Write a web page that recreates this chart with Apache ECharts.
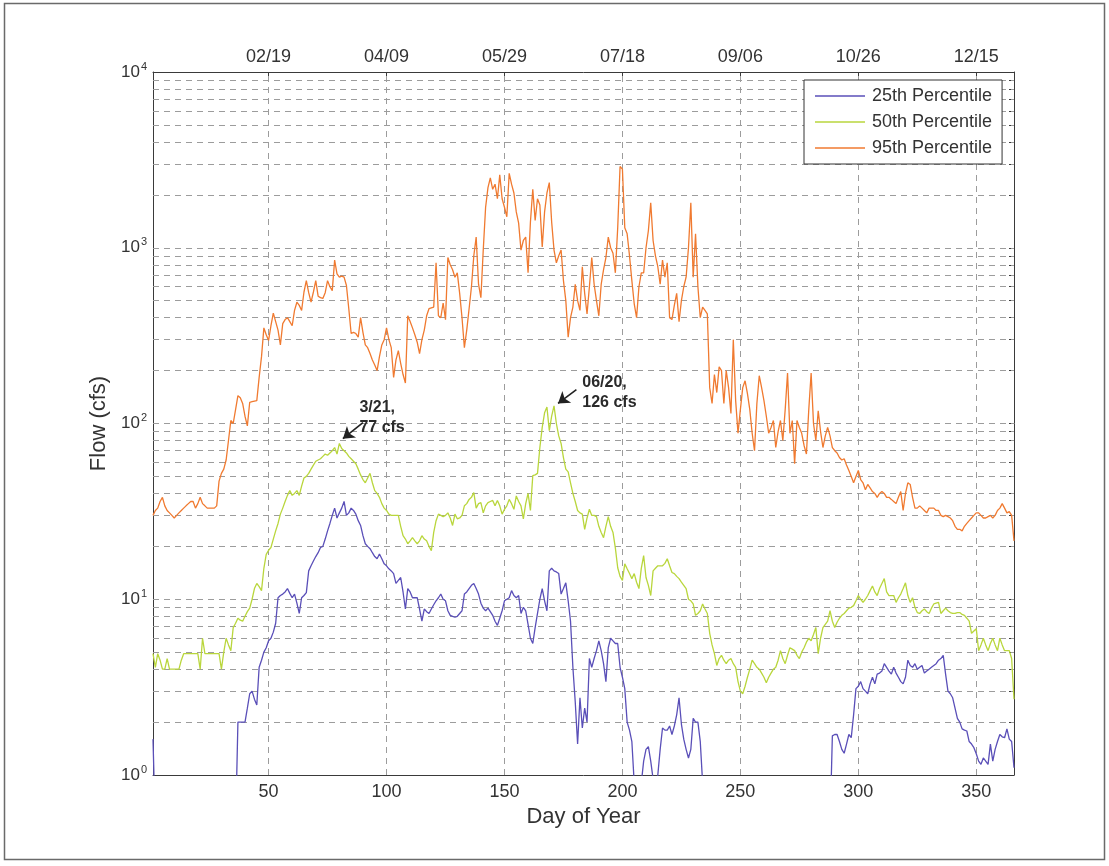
<!DOCTYPE html>
<html>
<head>
<meta charset="utf-8">
<script src="https://cdn.jsdelivr.net/npm/echarts@6/dist/echarts.min.js"></script>
<style>
  html, body { margin: 0; padding: 0; background: #fff; }
  #chart { width: 1109px; height: 866px; }
</style>
</head>
<body>
<div id="chart"></div>
<script>
//----------------------Data----------------------
// day-of-year ticks and the matching calendar labels on the top axis
let tick_days = [50, 100, 150, 200, 250, 300, 350];
let date_labels = ["02/19", "04/09", "05/29", "07/18", "09/06", "10/26", "12/15"];
// log axis: decades and the 2..9 sub-ticks
let decades = [1, 10, 100, 1000, 10000];
let log_ticks = [1, 2, 3, 4, 5, 6, 7, 8, 9, 10, 20, 30, 40, 50, 60, 70, 80, 90,
    100, 200, 300, 400, 500, 600, 700, 800, 900, 1000, 2000, 3000, 4000, 5000,
    6000, 7000, 8000, 9000, 10000];

// flow (cfs) for day 1..366, one row per 10 days (values < 1 fall under the axis)
let p25 = [
    1.6, 0.5, 0.5, 0.5, 0.5, 0.5, 0.5, 0.5, 0.5, 0.5,
    0.5, 0.5, 0.5, 0.5, 0.5, 0.5, 0.5, 0.5, 0.5, 0.5,
    0.5, 0.5, 0.5, 0.5, 0.5, 0.5, 0.5, 0.5, 0.5, 0.5,
    0.5, 0.5, 0.5, 0.5, 0.5, 0.5, 2.0, 2.0, 2.0, 2.0,
    2.4, 2.9, 3.0, 2.7, 2.5, 4.1, 4.5, 5.0, 5.3, 5.8,
    6.0, 6.5, 7.3, 10.2, 10.5, 10.7, 11, 11.5, 10.8, 10.2,
    10.7, 9.5, 8.3, 10.2, 10.5, 10.9, 14.5, 15.5, 16.5, 17.5,
    18.4, 19.7, 20, 22, 24.5, 27, 30, 33, 29, 31,
    33, 36, 30, 31, 33, 32, 30.5, 28, 26.3, 23,
    20.7, 20, 19.4, 18.4, 17.5, 17, 18.1, 17, 15.9, 15.5,
    14.9, 14.5, 14, 12.3, 12.8, 13.3, 11, 8.8, 11.5, 11,
    10.2, 10.2, 10.2, 8.8, 7.5, 8.8, 8.5, 8.3, 8.8, 9.3,
    9.8, 10.2, 10.7, 10, 9.8, 8.6, 8.1, 8.0, 7.9, 8.0,
    8.3, 8.6, 10.7, 11, 11.5, 12, 12.3, 11.5, 10.7, 9.5,
    8.9, 8.6, 8.9, 8.5, 8.1, 7.5, 7.1, 7.8, 8.6, 9.8,
    10, 10.2, 11.2, 10.5, 10.2, 10.5, 8.3, 9, 8.6, 7.2,
    6.0, 5.6, 6.9, 8.3, 10, 11.5, 9.8, 8.6, 14.5, 15,
    14.5, 14.3, 14, 10.7, 11.5, 12.4, 9.8, 7.5, 4.1, 2.6,
    1.5, 2.75, 1.85, 2.4, 2.0, 4.6, 4.1, 4.6, 5.1, 5.8,
    5.1, 4.3, 3.4, 5.3, 6.0, 5.8, 5.6, 5.6, 4.1, 3.6,
    3.1, 2.0, 1.8, 1.55, 0.9, 0.6, 0.6, 0.9, 1.2, 1.4,
    1.45, 1.2, 0.95, 0.85, 1.0, 1.4, 1.85, 1.8, 1.8, 1.9,
    1.7, 1.9, 2.2, 2.75, 1.95, 1.6, 1.4, 1.25, 1.4, 2.1,
    2.0, 2.0, 1.55, 0.9, 0.5, 0.5, 0.5, 0.5, 0.5, 0.5,
    0.5, 0.5, 0.5, 0.5, 0.5, 0.5, 0.5, 0.5, 0.5, 0.5,
    0.5, 0.5, 0.5, 0.5, 0.5, 0.5, 0.5, 0.5, 0.5, 0.5,
    0.5, 0.5, 0.5, 0.5, 0.5, 0.5, 0.5, 0.5, 0.5, 0.5,
    0.5, 0.5, 0.5, 0.5, 0.5, 0.5, 0.5, 0.5, 0.5, 0.5,
    0.5, 0.5, 0.5, 0.5, 0.5, 0.5, 0.5, 0.5, 1.67, 1.7,
    1.7, 1.55, 1.4, 1.33, 1.5, 1.7, 1.63, 2.2, 3.1, 3.2,
    3.4, 3.1, 3.0, 2.9, 3.3, 3.6, 3.3, 3.75, 3.8, 3.9,
    4.3, 4.1, 3.9, 3.75, 4.1, 3.8, 3.6, 3.4, 3.3, 3.6,
    4.5, 4.2, 4.1, 4.3, 4.0, 4.1, 4.2, 3.8, 3.9, 4.0,
    4.1, 4.2, 4.3, 4.5, 4.6, 4.8, 3.75, 3.0, 2.9, 2.75,
    2.4, 2.1, 2.0, 1.83, 1.8, 1.78, 1.55, 1.5, 1.43, 1.32,
    1.2, 1.15, 1.25, 1.2, 1.15, 1.5, 1.2, 1.4, 1.55, 1.7,
    1.65, 1.63, 1.83, 1.6, 1.55, 1.1
];
let p50 = [
    4.9, 4.1, 4.9, 4.5, 4.0, 4.0, 4.6, 4.0, 4.0, 4.0,
    4.0, 4.0, 4.5, 4.9, 4.9, 4.9, 4.9, 4.9, 4.9, 4.9,
    4.0, 6.0, 4.9, 4.9, 4.9, 4.9, 4.9, 4.9, 4.9, 4.0,
    5.0, 6.0, 5.5, 5.1, 6.9, 7.3, 7.8, 7.6, 7.5, 8.0,
    8.5, 8.9, 10, 11.5, 12.3, 11.8, 11.2, 15, 18, 19,
    19.7, 22, 24.5, 27, 30.5, 33, 36, 39, 41.5, 39,
    40, 41.5, 39, 44, 49, 50, 52, 55, 58, 61,
    62, 63, 65, 67, 66, 68, 70, 73, 67, 77,
    72, 70, 68, 65, 63, 61, 59, 55, 51, 48,
    46, 49, 52, 46, 41.5, 40, 38, 35, 33, 32,
    30.5, 30, 30, 30, 30, 26, 23, 22, 20.7, 21.5,
    22.4, 21.5, 20.7, 21.5, 23, 22, 21.5, 20, 18.9, 24,
    28, 30.5, 30, 29.5, 30, 31, 29, 26.3, 30.5, 28.7,
    29, 30, 34, 35, 37, 38, 40.5, 33, 35, 35.5,
    31, 34, 35.5, 36, 36.5, 34, 36.5, 34, 30.5, 32.5,
    34, 37, 35, 32.5, 38.7, 36, 34, 28.7, 35, 40,
    32, 50.5, 51, 52, 73, 95, 115, 124, 91, 110,
    126, 100, 85, 77, 64, 55, 53, 46, 40, 36,
    32, 31, 30.5, 25, 29, 32.5, 30, 30, 29.5, 26,
    24, 22.4, 26, 29.5, 26, 24, 19.6, 15.1, 13.5, 12.8,
    15.9, 14.9, 14, 13.1, 14, 12.5, 11.5, 15, 17.7, 13.3,
    12, 10.5, 14.5, 15, 15.5, 15.5, 15.5, 16, 17, 15.5,
    14.2, 14, 13.5, 13.1, 12.5, 12, 11.5, 10, 9.8, 9.4,
    8.1, 8.3, 8.6, 9.4, 8.8, 8.3, 6.4, 5.5, 4.9, 4.2,
    4.6, 4.8, 4.5, 4.3, 4.5, 4.6, 4.3, 4.1, 3.4, 3.0,
    2.9, 3.2, 3.6, 4.0, 4.5, 4.3, 4.1, 4.0, 3.8, 3.6,
    3.35, 3.6, 3.8, 4.0, 4.1, 4.5, 5.1, 4.6, 4.3, 4.8,
    5.3, 5.2, 5.1, 4.8, 4.6, 5.0, 5.3, 5.7, 6.0, 5.8,
    6.3, 6.9, 4.9, 6.0, 6.9, 7.2, 7.5, 8.6, 7.5, 6.9,
    7.4, 7.8, 8.1, 8.3, 8.6, 8.9, 9.0, 9.2, 9.8, 10.5,
    10, 9.6, 10, 10.5, 11.2, 11.9, 11, 10.5, 11.5, 12.3,
    13.1, 11, 10.5, 10.5, 10.5, 9.6, 10.2, 10.7, 11.5, 12.4,
    10.5, 9.6, 10.2, 9, 8.4, 8.3, 8.6, 8.8, 8.5, 8.3,
    8.9, 9.4, 9.5, 9.6, 8.3, 8.6, 8.9, 8.6, 8.4, 8.3,
    8.3, 8.4, 8.4, 8.2, 8.1, 7.8, 7.5, 6.4, 6.6, 6.8,
    5.1, 5.5, 6.0, 5.5, 5.1, 5.6, 6.0, 5.5, 5.1, 6.0,
    5.5, 5.1, 5.1, 5.1, 4.6, 2.7
];
let p95 = [
    30, 32, 33, 36, 38, 34, 32, 31, 30, 29,
    30, 31, 32, 33, 34, 35, 36, 36, 33, 35,
    38, 35, 34, 33, 33, 33, 33, 34, 47, 52,
    55, 62, 80, 104, 100, 120, 144, 140, 130, 110,
    97, 132, 133, 134, 135, 183, 240, 350, 320, 297,
    360, 425, 380, 340, 280, 370, 390, 400, 380, 360,
    440, 490, 470, 440, 560, 650, 555, 490, 560, 650,
    530, 520, 515, 555, 650, 600, 570, 850, 710, 680,
    690, 680, 610, 450, 325, 330, 325, 310, 400, 330,
    280, 270, 250, 230, 215, 200, 240, 280, 300, 350,
    300, 270, 183, 230, 260, 220, 190, 170, 410, 380,
    350, 320, 290, 250, 300, 340, 410, 450, 455, 460,
    820, 410, 400, 485, 390, 880, 800, 750, 680, 720,
    550, 400, 270, 340, 450, 600, 900, 1150, 620, 520,
    970, 1700, 2200, 2500, 2150, 2300, 1900, 2600, 1900, 1700,
    1500, 2650, 2300, 2050, 1600, 1380, 970, 1100, 1150, 720,
    1400, 2150, 1430, 1900, 1750, 1010, 1600, 2050, 2350, 1400,
    970, 820, 900, 970, 650, 500, 310, 400, 460, 620,
    500, 440, 780, 550, 420, 600, 880, 620, 500, 410,
    620, 750, 880, 1150, 1000, 930, 720, 1300, 2900, 2800,
    1300, 1200, 900, 650, 480, 400, 600, 720, 720, 1000,
    1250, 1800, 1100, 900, 780, 620, 850, 680, 820, 400,
    390, 470, 550, 380, 500, 600, 680, 1000, 1800, 680,
    1200, 600, 400, 460, 440, 420, 160, 130, 190, 150,
    210, 200, 130, 200, 160, 114, 300, 135, 88, 120,
    160, 175, 148, 120, 88, 70, 130, 187, 160, 135,
    110, 88, 95, 104, 73, 90, 104, 80, 120, 194,
    88, 104, 59, 104, 95, 88, 75, 67, 120, 194,
    100, 80, 118, 90, 73, 85, 95, 85, 73, 70,
    68, 64, 62, 63, 58, 54, 50, 46, 50, 54,
    48, 46, 42, 45, 43, 41, 40, 38, 40, 41,
    40, 38, 38, 37, 36, 35, 38, 41, 32, 40,
    46, 45, 38, 33, 33, 34, 33, 32, 31, 33,
    33, 33, 32, 32, 30, 29.5, 30, 29.5, 29, 28,
    26, 25, 25, 24.5, 26, 27, 28, 29, 30, 31,
    31, 30, 29, 29, 29.5, 30, 29, 30, 32, 33,
    35, 33, 31, 31.5, 30, 21.5
];
let series_names = ["25th Percentile", "50th Percentile", "95th Percentile"];
let series_colors = ["#5a4fb8", "#b9d63c", "#f07a30"];
let series_values = [p25, p50, p95];

// annotations: peak text and arrow (tail -> tip), in day / cfs
let notes = [
    {text: "3/21,\n77 cfs", at: [88.5, 108], tail: [90, 101], tip: [81.5, 82]},
    {text: "06/20,\n126 cfs", at: [183, 150], tail: [180.5, 156], tip: [172.7, 130]}
];

//--------------------Build--------------------
let chart_dom = document.getElementById("chart");
let chart = echarts.init(chart_dom, null, {renderer: "canvas"});

function toPairs(values) {
    let out = [];
    for (let i = 0; i < values.length; i++) {
        out.push([i + 1, values[i]]);
    }
    return out;
}

let axis_color = "#3a3a3a";
let grid_style = {color: "#9c9c9c", width: 1, type: [6, 5]};

// dashed grid: 2..9 sub-lines on the log axis, day ticks on x
let grid_lines = [];
log_ticks.forEach(function (v) {
    if (v > 1 && v < 10000) grid_lines.push({yAxis: v});
});
tick_days.forEach(function (d) {
    grid_lines.push({xAxis: d});
});

let series_list = series_values.map(function (vals, i) {
    return {
        name: series_names[i],
        type: "line",
        data: toPairs(vals),
        showSymbol: false,
        symbol: "none",
        clip: true,
        z: 3,
        lineStyle: {color: series_colors[i], width: 1.3},
        itemStyle: {color: series_colors[i]},
        emphasis: {disabled: true}
    };
});

// grid lines live under the data
series_list[0].markLine = {
    silent: true,
    z: 1,
    symbol: ["none", "none"],
    label: {show: false},
    lineStyle: grid_style,
    emphasis: {disabled: true},
    animation: false,
    data: grid_lines
};

// peak notes and arrows on the median series
series_list[1].markLine = {
    silent: true,
    symbol: ["none", "arrow"],
    symbolSize: 11,
    label: {show: false},
    lineStyle: {color: "#222", width: 1.6, type: "solid"},
    itemStyle: {color: "#222"},
    emphasis: {disabled: true},
    animation: false,
    data: notes.map(function (n) {
        return [{coord: n.tail}, {coord: n.tip}];
    })
};
series_list[1].markPoint = {
    silent: true,
    symbol: "circle",
    symbolSize: 0,
    animation: false,
    label: {
        show: true,
        position: "right",
        distance: 0,
        formatter: "{b}",
        color: "#2a2a2a",
        fontFamily: "Liberation Sans, Arial, sans-serif",
        fontWeight: "bold",
        fontSize: 16,
        lineHeight: 20
    },
    data: notes.map(function (n) {
        return {name: n.text, coord: n.at};
    })
};

let font = "Liberation Sans, Arial, sans-serif";

let option = {
    backgroundColor: "#ffffff",
    animation: false,
    textStyle: {fontFamily: font},
    grid: {left: 153, right: 95, top: 72, bottom: 91, containLabel: false},
    legend: {
        data: series_names,
        orient: "vertical",
        left: 804,
        top: 80,
        padding: [7, 10, 7, 11],
        icon: "rect",
        itemWidth: 50,
        itemHeight: 1.5,
        itemGap: 8,
        backgroundColor: "#fff",
        borderColor: "#333",
        borderWidth: 1,
        textStyle: {fontSize: 18, color: "#333", fontFamily: font, lineHeight: 18, padding: [0, 0, 0, 2]}
    },
    xAxis: [
        {
            type: "value",
            position: "bottom",
            min: 1,
            max: 366,
            name: "Day of Year",
            nameLocation: "middle",
            nameGap: 22,
            nameTextStyle: {fontSize: 22, color: "#333", fontFamily: font},
            axisLine: {show: true, onZero: false, lineStyle: {color: axis_color}},
            axisTick: {show: true, inside: true, length: 6, customValues: tick_days, lineStyle: {color: axis_color}},
            axisLabel: {show: true, margin: 8, fontSize: 18, color: "#333", customValues: tick_days},
            splitLine: {show: false}
        },
        {
            type: "value",
            position: "top",
            min: 1,
            max: 366,
            axisLine: {show: true, onZero: false, lineStyle: {color: axis_color}},
            axisTick: {show: true, inside: true, length: 6, customValues: tick_days, lineStyle: {color: axis_color}},
            axisLabel: {
                show: true,
                margin: 6,
                fontSize: 18,
                color: "#333",
                customValues: tick_days,
                formatter: function (v) {
                    let k = tick_days.indexOf(Math.round(v));
                    return k >= 0 ? date_labels[k] : "";
                }
            },
            splitLine: {show: false}
        }
    ],
    yAxis: [
        {
            type: "log",
            logBase: 10,
            position: "left",
            min: 1,
            max: 10000,
            name: "Flow (cfs)",
            nameLocation: "middle",
            nameGap: 40,
            nameTextStyle: {fontSize: 22, color: "#333", fontFamily: font},
            axisLine: {show: true, lineStyle: {color: axis_color}},
            axisTick: {show: true, inside: true, length: 5, customValues: log_ticks, lineStyle: {color: axis_color}},
            axisLabel: {
                show: true,
                margin: 6,
                customValues: decades,
                formatter: function (v) {
                    return "{b|10}{s|" + Math.round(Math.log10(v)) + "}";
                },
                rich: {
                    b: {fontSize: 17, color: "#333", fontFamily: font},
                    s: {fontSize: 11, color: "#333", fontFamily: font, padding: [0, 0, 11, 1]}
                }
            },
            splitLine: {show: false}
        },
        {
            type: "log",
            logBase: 10,
            position: "right",
            min: 1,
            max: 10000,
            axisLine: {show: true, lineStyle: {color: axis_color}},
            axisTick: {show: true, inside: true, length: 5, customValues: log_ticks, lineStyle: {color: axis_color}},
            axisLabel: {show: false},
            splitLine: {show: false}
        }
    ],
    graphic: [
        {
            type: "rect",
            silent: true,
            shape: {x: 4.5, y: 3.5, width: 1100, height: 856},
            style: {fill: "none", stroke: "#6a6a6a", lineWidth: 1.5}
        }
    ],
    series: series_list
};

chart.setOption(option, true);
</script>
</body>
</html>
